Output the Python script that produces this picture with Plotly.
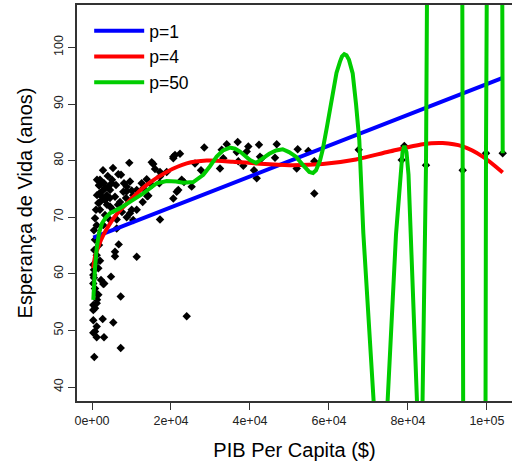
import plotly.graph_objects as go

# ---- data (GDP per capita in $, life expectancy in years) ----
gdp = [580, 330, 760, 1190, 1190, 3040, 2710, 5390, 7270, 23980,
       7270, 4810, 3110, 5820, 5820, 6760, 11320, 2030, 1600, 1600,
       1190, 330, 330, 760, 330, 330, 330, 580, 1190, 760,
       2860, 1010, 330, 1270, 500, 760, 1770, 1010, 500, 2280,
       500, 1190, 760, 1010, 1600, 1850, 1850, 3980, 6660, 9440,
       4990, 4560, 5820, 7090, 7930, 8790, 10050, 11320, 12580, 13850,
       12840, 14000, 17220, 10050, 8790, 6250, 4560, 3290, 2860, 6250,
       4560, 3290, 3720, 2860, 1770, 10430, 9620, 10430, 9620, 8790,
       12990, 11320, 15520, 2030, 3040, 4050, 5060, 6080, 2530, 3800,
       5320, 6580, 7600, 2030, 1270, 8100, 7340, 5320, 2790, 2030,
       4560, 8610, 1270, 3290, 22280, 20590, 28430, 34110, 36890, 39580,
       27600, 32410, 25240, 22710, 23290, 17040, 20590, 21450, 21020, 18910,
       21850, 15120, 15950, 17220, 15120, 14260, 26080, 32840, 33250, 41020,
       36640, 39170, 42280, 46770, 37040, 38310, 41700, 42540, 42970, 46340,
       52080, 54770, 51830, 56290, 56290, 67530, 78420, 79080, 84570, 93860,
       99760, 103990, 17220, 20590]
life = [45.3, 49.6, 49.8, 50.7, 48.8, 48.8, 52.0, 51.4, 46.9, 52.5,
        56.0, 59.5, 58.3, 63.9, 63.1, 65.2, 63.0, 62.3, 61.0, 56.3,
        54.8, 54.5, 53.6, 57.4, 58.3, 59.8, 61.6, 64.2, 63.3, 53.9,
        58.2, 56.6, 51.8, 55.4, 60.7, 66.0, 65.1, 62.1, 59.3, 58.9,
        67.7, 68.6, 69.8, 71.3, 72.5, 74.2, 75.7, 77.3, 77.6, 79.6,
        76.0, 74.8, 73.6, 72.7, 74.5, 74.6, 74.7, 74.8, 76.0, 76.7,
        72.7, 73.7, 69.6, 71.3, 70.0, 69.6, 69.5, 70.4, 68.6, 68.0,
        71.9, 73.0, 73.9, 74.8, 75.6, 73.9, 70.7, 69.5, 76.3, 75.4,
        75.1, 71.3, 79.4, 76.6, 76.0, 75.3, 76.6, 75.7, 73.6, 72.2,
        71.3, 72.2, 70.9, 71.3, 73.9, 76.0, 77.5, 78.7, 78.3, 72.7,
        73.4, 73.4, 76.6, 75.2, 81.2, 80.7, 82.3, 82.9, 83.3, 82.5,
        78.3, 78.6, 75.4, 76.6, 76.2, 76.0, 73.3, 74.5, 81.0, 78.0,
        74.8, 79.7, 78.5, 78.0, 75.7, 73.8, 79.5, 81.9, 80.4, 78.3,
        81.5, 81.6, 82.8, 82.9, 79.9, 79.1, 76.9, 80.7, 80.4, 80.5,
        82.0, 81.7, 78.6, 79.9, 74.2, 81.9, 80.1, 82.6, 79.2, 78.3,
        81.3, 81.3, 77.2, 80.4]

# fitted curves
p1_x = [330, 103990]
p1_y = [66.4, 94.6]

p4_x = [330, 760, 1520, 2280, 3540, 6080, 9620, 13850, 18910, 23980,
        29040, 35700, 41520, 49960, 58410, 66850, 75280, 83730, 88800, 93860,
        98930, 103990]
p4_y = [61.0, 63.0, 64.6, 66.0, 67.7, 70.4, 73.0, 75.7, 78.0, 79.5,
        80.0, 79.8, 79.5, 79.2, 79.4, 80.2, 81.6, 82.9, 83.1, 82.5,
        80.7, 77.9]

p50_x = [330, 500, 760, 1190, 1770, 2530, 3540, 4560, 7090, 9620,
         12990, 16380, 18910, 21270, 23120, 25650, 28180, 29870, 31570, 33170,
         34940, 36210, 37470, 40010, 41530, 43040, 44890, 46590, 48280, 49880,
         51650, 53430, 55020, 55960, 56720, 57730, 58410, 59500, 60950, 61900,
         62790, 63300, 63880, 64440, 65070, 66010, 66850, 67680, 68700, 71330,
         73250, 76970, 77990, 78620, 79080, 79630, 80140, 80770, 82290, 83280,
         84570, 85000, 89000, 93700, 93860, 94030, 97000, 99600, 99760, 99930,
         102000, 103800, 103990]
p50_y = [55.4, 58.0, 61.0, 64.5, 67.2, 68.9, 70.0, 70.7, 71.6, 72.7,
         74.2, 76.0, 76.4, 76.3, 76.1, 76.2, 77.5, 79.0, 80.7, 81.8,
         82.3, 82.1, 81.6, 80.1, 79.6, 80.3, 81.2, 81.8, 82.0, 81.5,
         80.7, 79.2, 78.0, 77.8, 78.3, 80.0, 81.9, 86.0, 91.9, 95.5,
         97.5, 98.4, 98.8, 98.6, 97.8, 95.4, 90.0, 83.6, 67.2, 37.5,
         15.4, 66.9, 77.5, 81.5, 82.6, 81.5, 77.5, 66.9, 37.4, 17.8,
         79.2, 130.0, 400.0, 130.0, 78.3, 20.0, -300.0, 20.0, 81.3, 130.0,
         400.0, 130.0, 81.3]

x_tick_vals = [0, 20000, 40000, 60000, 80000, 100000]
x_tick_text = ["0e+00", "2e+04", "4e+04", "6e+04", "8e+04", "1e+05"]
y_tick_vals = [40, 50, 60, 70, 80, 90, 100]

FONT = "Liberation Sans, Arial, Helvetica, sans-serif"

fig = go.Figure()
fig.add_trace(go.Scatter(x=gdp, y=life, mode="markers",
                         marker=dict(symbol="diamond", size=6.5, color="black"),
                         showlegend=False, hoverinfo="skip"))
fig.add_trace(go.Scatter(x=p1_x, y=p1_y, mode="lines", name="p=1",
                         legendgroup="a",
                         line=dict(color="#0000FF", width=4)))
fig.add_trace(go.Scatter(x=p4_x, y=p4_y, mode="lines", name="p=4",
                         legendgroup="b",
                         line=dict(color="#FF0000", width=4, shape="spline", smoothing=0.8)))
fig.add_trace(go.Scatter(x=p50_x, y=p50_y, mode="lines", name="p=50",
                         legendgroup="c",
                         line=dict(color="#00CD00", width=4)))

fig.update_layout(
    width=512, height=469,
    margin=dict(l=77, r=0, t=5, b=68, autoexpand=False),
    paper_bgcolor="white", plot_bgcolor="white",
    font=dict(family=FONT, color="black"),
    showlegend=True,
    legend=dict(x=0.028, y=0.98, xanchor="left", yanchor="top",
                bgcolor="rgba(0,0,0,0)", borderwidth=0,
                font=dict(size=17.5, family=FONT, color="black"),
                itemwidth=50, tracegroupgap=0),
    xaxis=dict(range=[-3798, 106344], tickvals=x_tick_vals, ticktext=x_tick_text,
               ticks="outside", ticklen=7, tickwidth=1, tickcolor="#333",
               showline=True, linecolor="#333", linewidth=1.5, mirror=True,
               showgrid=False, zeroline=False,
               tickfont=dict(size=12.5, family=FONT, color="#222"),
               title=dict(text="PIB Per Capita ($)", standoff=16,
                          font=dict(size=20, family=FONT, color="black")),
               automargin=False),
    yaxis=dict(range=[37.53, 107.49], tickvals=y_tick_vals,
               ticks="outside", ticklen=7, tickwidth=1, tickcolor="#333",
               showline=True, linecolor="#333", linewidth=1.5, mirror=False,
               showgrid=False, zeroline=False, tickangle=-90,
               tickfont=dict(size=12.5, family=FONT, color="#222"),
               title=dict(text="Esperança de Vida (anos)", standoff=14,
                          font=dict(size=20, family=FONT, color="black")),
               automargin=False),
)

fig.write_html("out.html")
